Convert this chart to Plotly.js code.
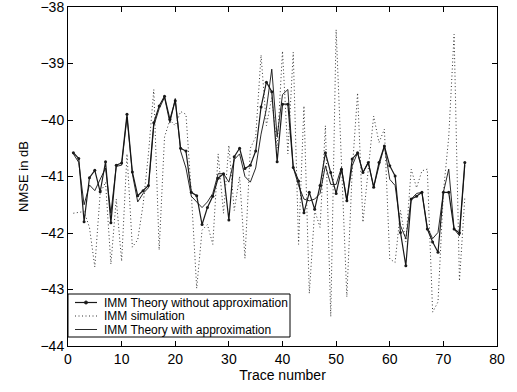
<!DOCTYPE html>
<html>
<head>
<meta charset="utf-8">
<script src="https://cdn.plot.ly/plotly-3.0.1.min.js"></script>
<style>html,body{margin:0;padding:0;background:#fff;}#chart{width:517px;height:392px;}</style>
</head>
<body>
<div id="chart"></div>
<script>
// Trace numbers 1..74
const traceNumbers = [];
for (let i = 1; i <= 74; i++) traceNumbers.push(i);

const theoryWithoutApprox = [
  -40.58, -40.68, -41.80, -41.02, -40.89, -41.27, -40.74, -41.82, -40.80, -40.76,
  -39.90, -40.92, -41.34, -41.25, -41.16, -40.05, -39.75, -39.58, -39.99, -39.66,
  -40.50, -40.55, -41.28, -41.34, -41.85, -41.55, -41.35, -41.03, -40.95, -41.77,
  -40.65, -40.50, -40.86, -40.80, -40.55, -39.77, -39.33, -39.50, -40.74, -39.72,
  -39.72, -40.84, -41.08, -41.64, -41.28, -41.58, -41.16, -40.58, -40.93, -41.30,
  -40.87, -41.43, -40.69, -40.58, -40.93, -40.75, -41.19, -40.75, -40.46, -40.81,
  -40.99, -41.99, -42.58, -41.40, -41.35, -41.28, -41.93, -42.16, -42.34, -41.28,
  -41.28, -41.93, -42.00, -40.75
];

const immSimulation = [
  -41.65, -41.63, -41.62, -41.90, -42.60, -41.30, -41.10, -42.55, -41.40, -42.50,
  -40.60, -42.25, -42.12, -41.50, -40.60, -39.46, -42.30, -40.30, -40.00, -40.10,
  -39.85, -39.90, -41.30, -42.98, -41.95, -41.85, -42.20, -40.60, -41.65, -40.45,
  -41.60, -41.00, -42.45, -40.50, -40.30, -38.85, -40.10, -39.60, -40.50, -38.78,
  -40.60, -38.80, -42.20, -39.75, -43.07, -41.60, -41.90, -40.10, -43.48, -38.40,
  -40.80, -43.13, -40.90, -39.52, -41.81, -40.90, -39.93, -40.40, -40.16, -42.46,
  -42.52, -41.60, -42.16, -40.87, -41.20, -40.90, -40.87, -43.40, -43.22, -41.28,
  -40.30, -38.48, -42.85, -41.37
];

const theoryWithApprox = [
  -40.60, -40.75, -41.50, -41.15, -41.25, -41.05, -40.85, -41.65, -40.82, -40.80,
  -39.95, -40.95, -41.45, -41.30, -41.20, -40.10, -39.80, -39.60, -40.05, -39.62,
  -40.55, -40.85, -41.35, -41.45, -41.55, -41.45, -41.30, -40.95, -40.95, -41.10,
  -40.70, -40.60, -41.00, -41.10, -40.85, -40.25, -39.80, -39.10, -40.30, -39.55,
  -39.46, -40.84, -41.16, -41.40, -41.43, -41.40, -41.30, -40.81, -41.14, -41.14,
  -40.84, -41.43, -40.81, -40.58, -40.93, -40.75, -41.19, -40.81, -40.46, -41.05,
  -41.16, -41.87, -42.10, -41.40, -41.30, -41.28, -41.90, -42.10, -41.99, -41.28,
  -40.87, -41.93, -42.05, -40.80
];

const seriesNames = ['IMM Theory without approximation', 'IMM simulation', 'IMM Theory with approximation'];
const xTicks = [0, 10, 20, 30, 40, 50, 60, 70, 80];
const yTicks = [-44, -43, -42, -41, -40, -39, -38];

const styles = [
  {line: {color: '#1a1a1a', width: 1.2}, marker: {color: '#1a1a1a', size: 3}},
  {line: {color: '#333', width: 1, dash: '1px,2.5px'}},
  {line: {color: '#111', width: 0.9}}
];

const traces = [
  Object.assign({x: traceNumbers, y: theoryWithoutApprox, type: 'scatter', mode: 'lines+markers', name: seriesNames[0]}, styles[0]),
  Object.assign({x: traceNumbers, y: immSimulation, type: 'scatter', mode: 'lines', name: seriesNames[1]}, styles[1]),
  Object.assign({x: traceNumbers, y: theoryWithApprox, type: 'scatter', mode: 'lines', name: seriesNames[2]}, styles[2])
];

// Plot area in pixels (for a compact MATLAB-like legend box)
const L = 68, R = 497, T = 7, B = 346;
const px = p => (p - L) / (R - L);
const py = p => (B - p) / (B - T);

const shapes = [
  {type: 'rect', xref: 'paper', yref: 'paper', x0: px(68), x1: px(290), y0: py(337), y1: py(294),
   line: {color: '#000', width: 1}, fillcolor: '#fff', layer: 'above'}
];
const annotations = [];
const rowsY = [302.5, 316, 329.5];
rowsY.forEach((ry, i) => {
  const st = styles[i];
  shapes.push({type: 'line', xref: 'paper', yref: 'paper', x0: px(75), x1: px(97), y0: py(ry), y1: py(ry),
    line: {color: st.line.color, width: st.line.width, dash: st.line.dash || 'solid'}, layer: 'above'});
  if (st.marker) {
    shapes.push({type: 'circle', xref: 'paper', yref: 'paper', x0: px(84.5), x1: px(87.5), y0: py(ry + 1.5), y1: py(ry - 1.5),
      line: {color: st.marker.color, width: 1}, fillcolor: st.marker.color, layer: 'above'});
  }
  annotations.push({xref: 'paper', yref: 'paper', x: px(102), y: py(ry), xanchor: 'left', yanchor: 'middle',
    text: seriesNames[i], showarrow: false, font: {size: 12, color: '#000'}});
});

const fontFam = 'Liberation Sans, Arial, Helvetica, sans-serif';
const layout = {
  width: 517, height: 392,
  margin: {l: 68, r: 20, t: 7, b: 46},
  paper_bgcolor: '#fff', plot_bgcolor: '#fff',
  font: {family: fontFam, color: '#000', size: 13},
  showlegend: false,
  shapes: shapes,
  annotations: annotations,
  xaxis: {
    range: [0, 80], tickvals: xTicks, ticktext: xTicks.map(String),
    ticks: 'inside', ticklen: 5, tickcolor: '#000', mirror: 'ticks',
    showline: true, linecolor: '#000', linewidth: 1, showgrid: false, zeroline: false,
    tickfont: {size: 14}, ticklabeloverflow: 'allow',
    title: {text: 'Trace number', font: {size: 14}, standoff: 2}
  },
  yaxis: {
    range: [-44, -38], tickvals: yTicks, ticktext: yTicks.map(v => '\u2212' + Math.abs(v)),
    ticks: 'inside', ticklen: 5, tickcolor: '#000', mirror: 'ticks',
    showline: true, linecolor: '#000', linewidth: 1, showgrid: false, zeroline: false,
    tickfont: {size: 14}, ticklabeloverflow: 'allow',
    title: {text: 'NMSE in dB', font: {size: 13}, standoff: 8}
  }
};

Plotly.newPlot('chart', traces, layout, {displayModeBar: false, staticPlot: true});
</script>
</body>
</html>
